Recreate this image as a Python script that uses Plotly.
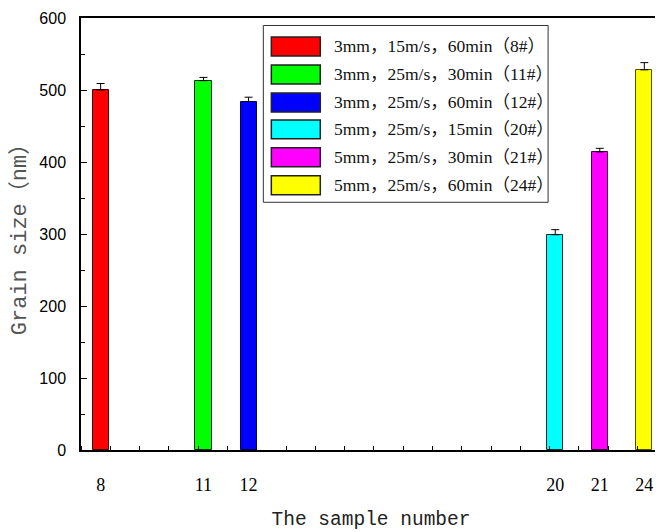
import plotly.graph_objects as go

# ---- data ----
sample_labels = ["8", "11", "12", "20", "21", "24"]
x_positions = [0.67, 4.18, 5.72, 16.19, 17.71, 19.23]
grain_size = [500, 513, 484, 299, 414, 528]
grain_err = [9, 4.5, 6, 7, 5, 10]
conditions = [
    "3mm，15m/s，60min（8#）",
    "3mm，25m/s，30min（11#）",
    "3mm，25m/s，60min（12#）",
    "5mm，25m/s，15min（20#）",
    "5mm，25m/s，30min（21#）",
    "5mm，25m/s，60min（24#）",
]
colors = ["#FF0000", "#00FF00", "#0000FF", "#00FFFF", "#FF00FF", "#FFFF00"]
border_colors = ["#400000", "#003000", "#000040", "#003030", "#400040", "#505000"]

fig = go.Figure()
for i in range(len(sample_labels)):
    fig.add_trace(go.Bar(
        x=[x_positions[i]], y=[grain_size[i]], width=0.55,
        name=conditions[i],
        marker=dict(color=colors[i], line=dict(color=border_colors[i], width=1)),
        error_y=dict(type="data", symmetric=False, array=[grain_err[i]], arrayminus=[0],
                     color="black", thickness=1, width=4),
        showlegend=False,
    ))

# plot-area edges in the reference picture (pixels)
L, R = 80.5, 661.0
T, B = 17.5, 450.0
OFF = 8  # page body margin added by the browser
def px(xp):
    return (xp - L) / (R - L)
def py(yp):
    return (B - yp) / (B - T)

# custom legend (large swatches like the original)
shapes = [dict(type="rect", xref="paper", yref="paper",
               x0=px(263), x1=px(548), y0=py(202), y1=py(25),
               line=dict(color="#333333", width=1), fillcolor="white", layer="above")]
annotations = []
row_y = [46, 74, 102, 129, 157, 185]
for i, txt in enumerate(conditions):
    cy = row_y[i]
    shapes.append(dict(type="rect", xref="paper", yref="paper",
                       x0=px(271), x1=px(320), y0=py(cy + 9.5), y1=py(cy - 9.5),
                       line=dict(color="#222222", width=1.5), fillcolor=colors[i], layer="above"))
    annotations.append(dict(xref="paper", yref="paper", x=px(332), y=py(cy),
                            text=txt, showarrow=False, xanchor="left", yanchor="middle",
                            font=dict(family="Liberation Serif, Noto Sans CJK SC", size=17.5, color="#111111")))

fig.update_layout(
    width=663, height=532,
    margin=dict(l=L - OFF, r=663 - (R - OFF), t=T - OFF, b=532 - (B - OFF), autoexpand=False),
    plot_bgcolor="white", paper_bgcolor="white",
    bargap=0, shapes=shapes, annotations=annotations,
    xaxis=dict(
        range=[0, 19.8],
        tickvals=x_positions, ticktext=sample_labels,
        ticks="", showgrid=False, zeroline=False,
        showline=True, linecolor="black", linewidth=1.5, mirror=True,
        tickfont=dict(family="Liberation Serif", size=18, color="black"),
        ticklabelstandoff=18,
        minor=dict(dtick=1, tick0=0, ticks="inside", ticklen=4, tickcolor="black", showgrid=False),
        title=dict(text="The sample number", font=dict(family="Liberation Mono", size=19.5, color="#222222"), standoff=17),
    ),
    yaxis=dict(
        range=[0, 600], dtick=100,
        ticks="inside", ticklen=6, tickcolor="black",
        showgrid=False, zeroline=False,
        showline=True, linecolor="black", linewidth=1.5, mirror="ticks",
        tickfont=dict(family="Liberation Sans", size=16, color="black"),
        ticklabelstandoff=10,
        minor=dict(dtick=50, ticks="inside", ticklen=4, tickcolor="black", showgrid=False),
        title=dict(text="Grain size（nm）", font=dict(family="Liberation Mono, Noto Sans CJK SC", size=22, color="#555555"), standoff=8),
    ),
)

fig.write_html("out.html")
